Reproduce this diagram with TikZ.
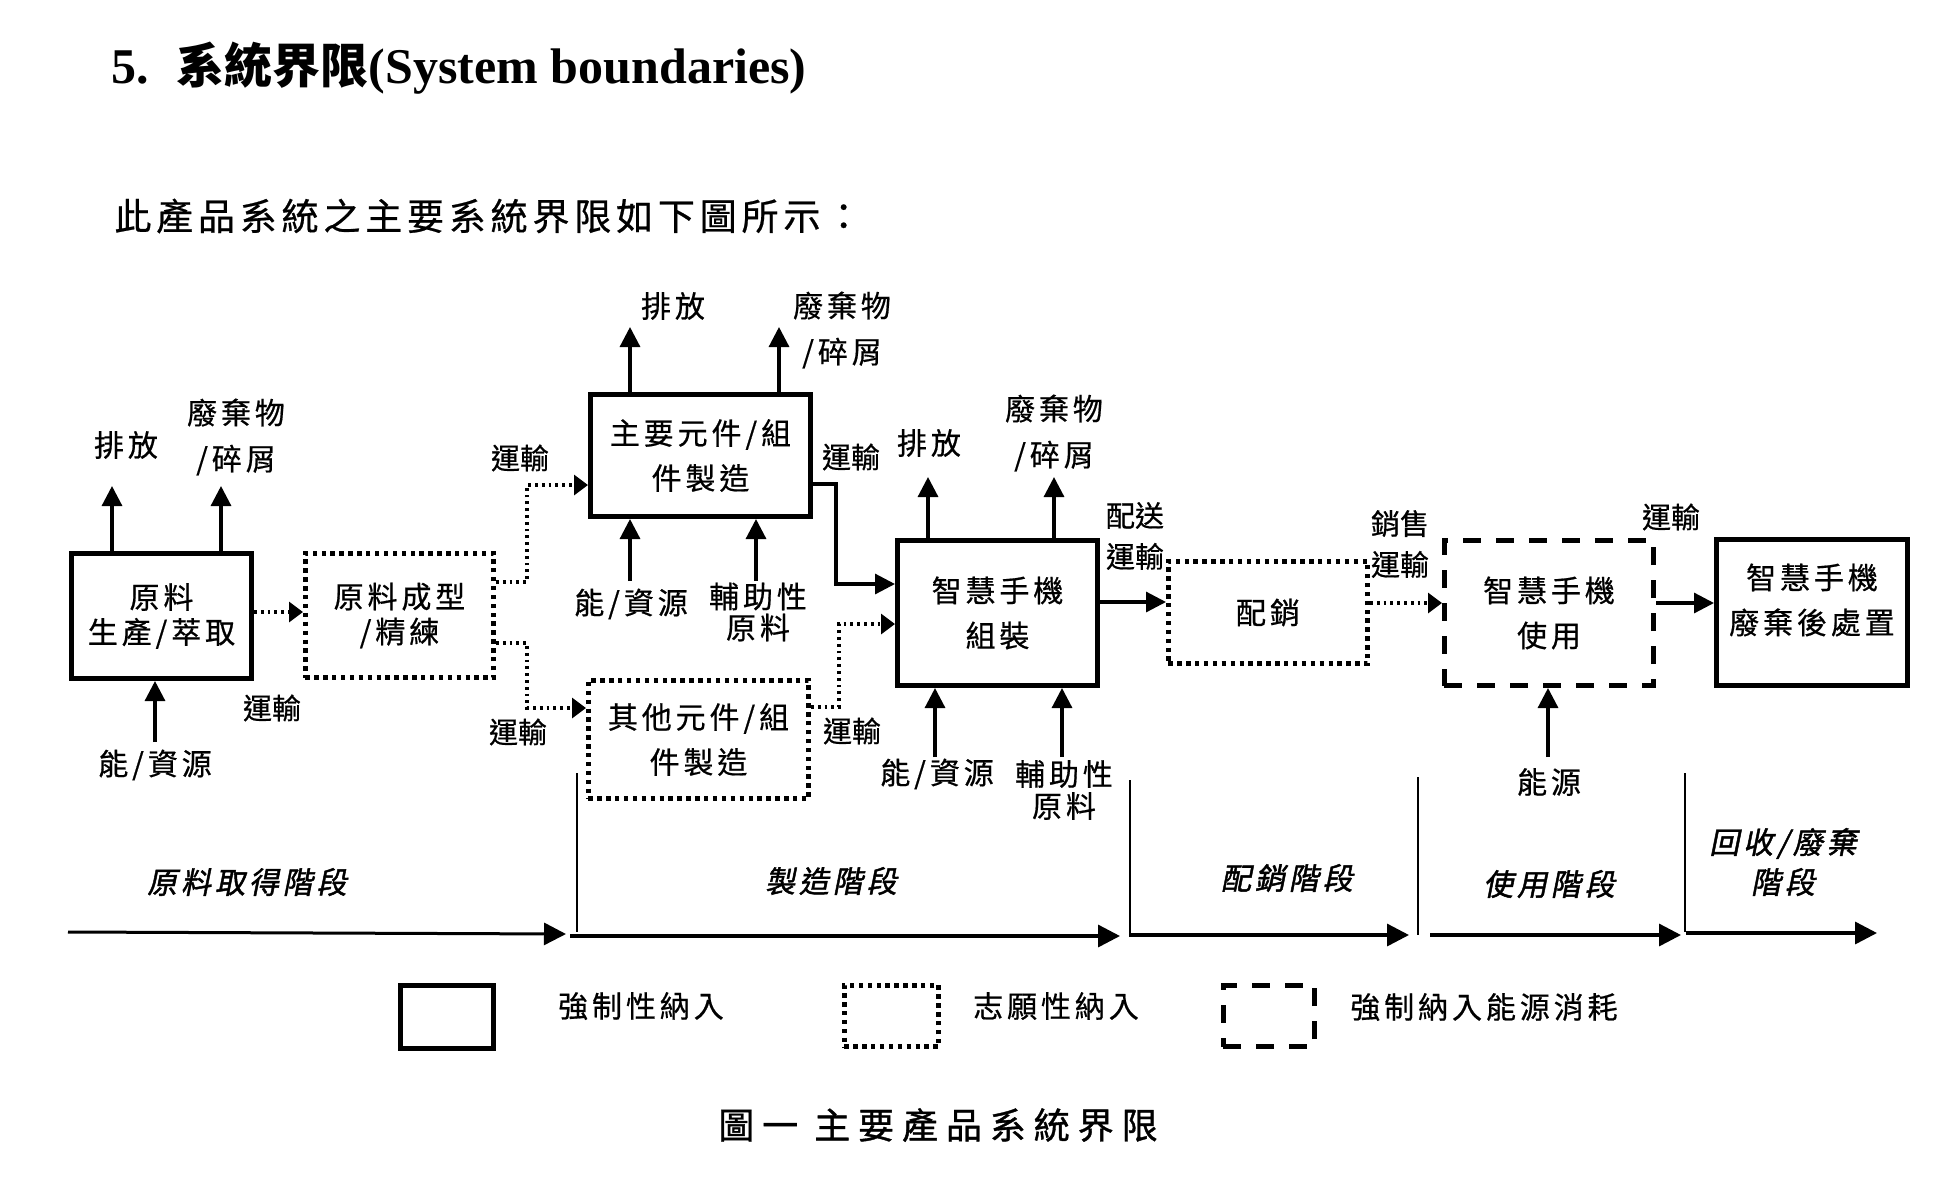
\documentclass[tikz,border=0pt]{standalone}
\usepackage{fontspec}
\setmainfont{Liberation Serif}
\newfontfamily\cjk{Noto Sans CJK TC}[LetterSpace=13,FakeBold=0.6]
\newfontfamily\cjkplain{Noto Sans CJK TC}[FakeBold=0.6]
\newfontfamily\cjktitle{Noto Sans CJK TC}
\newfontfamily\cjkcap{Noto Sans CJK TC}[LetterSpace=22,FakeBold=1]
\newfontfamily\cjkph{Noto Sans CJK TC}[LetterSpace=13,FakeSlant=0.2,FakeBold=1.5]
\usetikzlibrary{arrows.meta}
\newcommand\bxfontA{\cjk\fontsize{15}{17.5}\selectfont}
\newcommand\bxfontB{\cjk\fontsize{15}{22.5}\selectfont}
\newcommand\lbfont{\cjk\fontsize{15}{23}\selectfont}
\newcommand\lbfontS{\cjk\fontsize{15}{15.5}\selectfont}
\newcommand\trfont{\cjkplain\fontsize{14.5}{20.5}\selectfont}
\newcommand\phfont{\cjkph\fontsize{15}{20}\selectfont}
\begin{document}
\begin{tikzpicture}[x=0.5pt,y=-0.5pt,
  solidbox/.style={draw, line width=2.3pt, inner sep=0pt, align=center, font=\bxfontB},
  dotbox/.style={solidbox, dash pattern=on 2.2pt off 2.25pt},
  dashbox/.style={solidbox, dash pattern=on 9pt off 7.5pt},
  flow/.style={line width=1.6pt, -{Triangle[length=10pt,width=10pt]}},
  dotflow/.style={line width=1.6pt, dash pattern=on 1.4pt off 2pt, -{Triangle[length=7pt,width=10pt]}},
  axisarrow/.style={line width=1.7pt, -{Triangle[length=11pt,width=11pt]}},
  divider/.style={line width=1.3pt},
  lbl/.style={inner sep=0pt, align=center, font=\lbfont},
  lblS/.style={inner sep=0pt, align=center, font=\lbfontS},
  trlbl/.style={inner sep=0pt, align=center, font=\trfont},
  phase/.style={inner sep=0pt, align=center, font=\phfont},
  lgtext/.style={inner sep=0pt, font=\cjk\fontsize{15}{18}\selectfont}]
\useasboundingbox[fill=white] (0,0) rectangle (1954,1184);

% title and subtitle
\node[anchor=base west, inner sep=0pt] (title) at (111,83)
  {\fontsize{25}{30}\selectfont\bfseries 5.\hspace{14pt}{\cjktitle\fontsize{24}{30}\selectfont 系統界限}(System boundaries)};
\node[anchor=west, inner sep=0pt] (sub) at (114,216)
  {\cjk\fontsize{18.5}{22}\selectfont 此產品系統之主要系統界限如下圖所示：};

% process boxes
\node[solidbox, font=\bxfontA, minimum width=90.2pt, minimum height=62.7pt] (b1) at (161.5,616) {原料\\生產/萃取};
\node[dotbox, font=\bxfontA, minimum width=94.2pt, minimum height=62.2pt] (b2) at (399.5,615.5) {原料成型\\/精練};
\node[solidbox, minimum width=110.2pt, minimum height=61.2pt] (b3) at (700.5,455.5) {主要元件/組\\件製造};
\node[dotbox, minimum width=110.2pt, minimum height=59.2pt] (b4) at (698.5,739.5) {其他元件/組\\件製造};
\node[solidbox, minimum width=100.2pt, minimum height=72.7pt] (b5) at (997.5,613) {智慧手機\\組裝};
\node[dotbox, minimum width=99.7pt, minimum height=51.2pt] (b6) at (1268,612.5) {配銷};
\node[dashbox, minimum width=104.7pt, minimum height=72.7pt] (b7) at (1549,613) {智慧手機\\使用};
\node[solidbox, minimum width=95.7pt, minimum height=73.2pt] (b8) at (1812,612.5) {};
\node[inner sep=0pt, align=center, font=\bxfontB] (t8) at (1812,600) {智慧手機\\廢棄後處置};

% box 1 inputs/outputs
\node[lbl] (e1) at (126,445) {排放};
\node[lbl] (w1) at (236,437) {廢棄物\\/碎屑};
\node[lbl] (r1) at (155,765) {能/資源};
\node[trlbl] (tr1) at (272,708) {運輸};
\coordinate (e1t) at (112,486);
\coordinate (w1t) at (221,486);
\coordinate (r1t) at (155,742);
\draw[flow] (b1.north -| e1t) -- (e1t);
\draw[flow] (b1.north -| w1t) -- (w1t);
\draw[flow] (r1t) -- (b1.south -| r1t);
\draw[dotflow] (b1.east |- 0,612) -- (b2.west |- 0,612);

% box 2 to boxes 3 and 4
\draw[dotflow] (b2.east |- 0,582) -| (527,485) -- (b3.west |- 0,485);
\draw[dotflow] (b2.east |- 0,643) -| (527,708) -- (b4.west |- 0,708);
\node[trlbl] (tr2) at (520,458) {運輸};
\node[trlbl] (tr3) at (518,732) {運輸};

% box 3 inputs/outputs
\node[lbl] (e3) at (673,306) {排放};
\node[lbl] (w3) at (842,330) {廢棄物\\/碎屑};
\node[lbl] (r3) at (631,604) {能/資源};
\node[lblS] (m3) at (758,612) {輔助性\\原料};
\coordinate (e3t) at (630,327);
\coordinate (w3t) at (779,327);
\coordinate (r3t) at (630,581);
\coordinate (m3t) at (756,581);
\draw[flow] (b3.north -| e3t) -- (e3t);
\draw[flow] (b3.north -| w3t) -- (w3t);
\draw[flow] (r3t) -- (b3.south -| r3t);
\draw[flow] (m3t) -- (b3.south -| m3t);

% boxes 3 and 4 to box 5
\draw[flow] (b3.east |- 0,484) -| (836,584) -- (b5.west |- 0,584);
\draw[dotflow] (b4.east |- 0,707) -| (839,624) -- (b5.west |- 0,624);
\node[trlbl] (tr4) at (851,457) {運輸};
\node[trlbl] (tr5) at (852,731) {運輸};

% box 5 inputs/outputs
\node[lbl] (e5) at (929,443) {排放};
\node[lbl] (w5) at (1054,433) {廢棄物\\/碎屑};
\node[lbl] (r5) at (937,774) {能/資源};
\node[lbl, font=\cjk\fontsize{15}{16}\selectfont] (m5) at (1064,790) {輔助性\\原料};
\coordinate (e5t) at (928,477);
\coordinate (w5t) at (1054,477);
\coordinate (r5t) at (935,757);
\coordinate (m5t) at (1062,757);
\draw[flow] (b5.north -| e5t) -- (e5t);
\draw[flow] (b5.north -| w5t) -- (w5t);
\draw[flow] (r5t) -- (b5.south -| r5t);
\draw[flow] (m5t) -- (b5.south -| m5t);

% distribution, use, end of life
\draw[flow] (b5.east |- 0,602) -- (b6.west |- 0,602);
\node[trlbl] (tr6) at (1135,536) {配送\\運輸};
\draw[dotflow] (b6.east |- 0,603) -- (b7.west |- 0,603);
\node[trlbl] (tr7) at (1400,544) {銷售\\運輸};
\draw[flow] (b7.east |- 0,603) -- (b8.west |- 0,603);
\node[trlbl] (tr8) at (1671,517) {運輸};
\node[lbl] (r7) at (1549,782) {能源};
\coordinate (r7t) at (1548,757);
\draw[flow] (r7t) -- (b7.south -| r7t);

% life-cycle stages
\node[phase] (p1) at (247,882) {原料取得階段};
\node[phase] (p2) at (831,881) {製造階段};
\node[phase] (p3) at (1287,878) {配銷階段};
\node[phase] (p4) at (1549,884) {使用階段};
\node[phase] (p5) at (1783,862) {回收/廢棄\\階段};

\coordinate (a0) at (68,932);   \coordinate (a1) at (566,934);
\coordinate (a2) at (570,936);  \coordinate (a3) at (1120,936);
\coordinate (a4) at (1131,935); \coordinate (a5) at (1409,935);
\coordinate (a6) at (1430,935); \coordinate (a7) at (1681,935);
\coordinate (a8) at (1686,933); \coordinate (a9) at (1877,933);
\draw[axisarrow, line width=1.5pt] (a0) -- (a1);
\draw[axisarrow] (a2) -- (a3);
\draw[axisarrow] (a4) -- (a5);
\draw[axisarrow] (a6) -- (a7);
\draw[axisarrow] (a8) -- (a9);
\coordinate (v1t) at (577,773);  \coordinate (v1b) at (577,932);
\coordinate (v2t) at (1130,780); \coordinate (v2b) at (1130,937);
\coordinate (v3t) at (1418,777); \coordinate (v3b) at (1418,935);
\coordinate (v4t) at (1685,773); \coordinate (v4b) at (1685,932);
\draw[divider] (v1t) -- (v1b);
\draw[divider] (v2t) -- (v2b);
\draw[divider] (v3t) -- (v3b);
\draw[divider] (v4t) -- (v4b);

% legend
\node[solidbox, minimum width=46.7pt, minimum height=31.7pt] (l1) at (447,1017) {};
\node[lgtext] (l1t) at (641,1006) {強制性納入};
\node[dotbox, minimum width=47.2pt, minimum height=30.7pt] (l2) at (891.5,1016) {};
\node[lgtext] (l2t) at (1056,1006) {志願性納入};
\node[dashbox, minimum width=45.7pt, minimum height=30.7pt] (l3) at (1269,1016) {};
\node[lgtext] (l3t) at (1484,1007) {強制納入能源消耗};

% caption
\node[inner sep=0pt, font=\cjkcap\fontsize{18}{20}\selectfont] (cap) at (938,1125) {圖一 主要產品系統界限};
\end{tikzpicture}
\end{document}
